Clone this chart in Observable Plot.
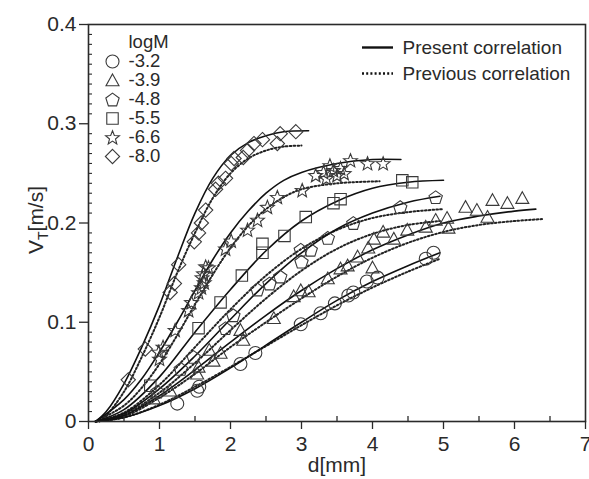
<!DOCTYPE html>
<html><head><meta charset="utf-8">
<script src="https://cdn.jsdelivr.net/npm/d3@7"></script>
<script src="https://cdn.jsdelivr.net/npm/@observablehq/plot@0.6"></script>
<style>
body{margin:0;background:#fff;}
#wrap{position:relative;width:589px;height:479px;font-family:"Liberation Sans",Arial,sans-serif;}
#wrap svg{position:absolute;overflow:visible;}
</style></head><body><div id="wrap"></div>
<script>
// ---- data ----
const groups = ["-3.2","-3.9","-4.8","-5.5","-6.6","-8.0"];
const legendTitle = "logM";
const lineLegend = ["Present correlation","Previous correlation"];
const xTicks = [0,1,2,3,4,5,6,7];
const xMinor = [0.5,1.5,2.5,3.5,4.5,5.5,6.5];
const yTicks = [0,0.1,0.2,0.3,0.4];
const yTickLabels = ["0","0.1","0.2","0.3","0.4"];
const yMinor = d3.range(1,40).filter(i=>i%10).map(i=>i/100);

// measured points [d (mm), VT (m/s)]
const pts32 = [[1.25,0.018],[1.53,0.031],[1.56,0.035],[2.14,0.058],[2.35,0.069],[2.99,0.098],[3.27,0.109],[3.47,0.119],[3.66,0.127],[3.73,0.13],[3.92,0.141],[4.07,0.145],[4.75,0.164],[4.86,0.17]];
const pts39 = [[0.92,0.023],[1.15,0.031],[1.53,0.048],[1.55,0.055],[1.7,0.072],[1.76,0.061],[1.86,0.069],[2.14,0.092],[2.18,0.082],[2.61,0.104],[2.89,0.126],[2.99,0.132],[3.1,0.131],[3.37,0.144],[3.55,0.154],[3.65,0.157],[3.79,0.166],[3.94,0.175],[4.0,0.155],[4.02,0.184],[4.15,0.191],[4.3,0.184],[4.49,0.193],[4.75,0.196],[4.89,0.203],[5.05,0.205],[5.07,0.195],[5.31,0.216],[5.47,0.213],[5.62,0.206],[5.69,0.223],[5.9,0.22],[6.11,0.225]];
const pts48 = [[0.97,0.03],[1.3,0.053],[1.48,0.065],[1.93,0.094],[2.04,0.107],[2.38,0.133],[2.55,0.139],[2.7,0.146],[2.99,0.173],[3.0,0.161],[3.13,0.173],[3.37,0.185],[3.73,0.2],[4.39,0.216],[4.89,0.226]];
const pts55 = [[0.87,0.036],[1.55,0.094],[1.86,0.12],[2.16,0.147],[2.45,0.17],[2.45,0.179],[2.76,0.187],[3.06,0.206],[3.45,0.22],[3.55,0.224],[4.42,0.243],[4.56,0.241]];
const pts66 = [[0.99,0.07],[1.0,0.063],[1.05,0.075],[1.22,0.092],[1.41,0.112],[1.45,0.12],[1.55,0.13],[1.59,0.135],[1.6,0.145],[1.63,0.14],[1.62,0.149],[1.65,0.156],[1.69,0.155],[1.93,0.174],[2.01,0.182],[2.24,0.193],[2.38,0.203],[2.52,0.216],[2.66,0.226],[3.01,0.233],[3.2,0.248],[3.31,0.251],[3.35,0.245],[3.4,0.258],[3.45,0.253],[3.5,0.248],[3.55,0.255],[3.6,0.25],[3.69,0.263],[3.93,0.26],[4.15,0.26]];
const pts80 = [[0.56,0.042],[0.80,0.073],[1.15,0.130],[1.21,0.139],[1.27,0.158],[1.49,0.181],[1.55,0.19],[1.59,0.2],[1.65,0.213],[1.79,0.234],[1.83,0.24],[1.93,0.245],[2.01,0.26],[2.05,0.265],[2.18,0.266],[2.24,0.273],[2.33,0.28],[2.45,0.284],[2.66,0.28],[2.7,0.29],[2.92,0.292]];

// correlation curves
const present32 = [[0.1,0],[0.5,0.004],[1.0,0.016],[1.5,0.033],[2.0,0.054],[2.5,0.077],[3.0,0.1],[3.5,0.122],[4.0,0.141],[4.5,0.157],[4.95,0.17]];
const previous32 = [[0.1,0],[0.5,0.004],[1.0,0.017],[1.5,0.035],[2.0,0.055],[2.5,0.076],[3.0,0.097],[3.5,0.117],[4.0,0.135],[4.5,0.151],[4.95,0.164]];
const present39 = [[0.1,0],[0.5,0.006],[1.0,0.026],[1.5,0.052],[2.0,0.08],[2.5,0.107],[3.0,0.132],[3.5,0.154],[4.0,0.173],[4.5,0.188],[5.0,0.2],[5.5,0.207],[6.0,0.212],[6.3,0.214]];
const previous39 = [[0.1,0],[0.5,0.005],[1.0,0.024],[1.5,0.048],[2.0,0.075],[2.5,0.1],[3.0,0.124],[3.5,0.146],[4.0,0.165],[4.5,0.18],[5.0,0.191],[5.5,0.198],[6.0,0.202],[6.4,0.204]];
const present48 = [[0.1,0],[0.5,0.008],[1.0,0.033],[1.5,0.066],[2.0,0.103],[2.5,0.139],[3.0,0.17],[3.5,0.194],[4.0,0.21],[4.5,0.221],[4.95,0.227]];
const previous48 = [[0.1,0],[0.5,0.007],[1.0,0.029],[1.5,0.059],[2.0,0.092],[2.5,0.124],[3.0,0.152],[3.5,0.174],[4.0,0.189],[4.5,0.198],[4.95,0.202]];
const present55 = [[0.1,0],[0.5,0.012],[1.0,0.045],[1.5,0.09],[2.0,0.133],[2.5,0.172],[3.0,0.202],[3.5,0.222],[4.0,0.235],[4.5,0.241],[5.0,0.243]];
const previous55 = [[0.1,0],[0.5,0.009],[1.0,0.037],[1.5,0.075],[2.0,0.113],[2.5,0.147],[3.0,0.174],[3.5,0.193],[4.0,0.205],[4.5,0.211],[5.0,0.214]];
const present66 = [[0.1,0],[0.5,0.022],[0.75,0.043],[1.0,0.07],[1.25,0.1],[1.5,0.132],[1.75,0.163],[2.0,0.19],[2.25,0.212],[2.5,0.23],[2.75,0.243],[3.0,0.251],[3.5,0.26],[4.0,0.264],[4.4,0.264]];
const previous66 = [[0.1,0],[0.5,0.016],[0.75,0.034],[1.0,0.058],[1.25,0.087],[1.5,0.118],[1.75,0.148],[2.0,0.175],[2.25,0.197],[2.5,0.214],[2.75,0.226],[3.0,0.234],[3.5,0.24],[4.1,0.242]];
const present80 = [[0.1,0],[0.25,0.01],[0.5,0.038],[0.75,0.075],[1.0,0.117],[1.25,0.165],[1.5,0.21],[1.75,0.245],[2.0,0.268],[2.25,0.281],[2.5,0.288],[2.75,0.292],[3.1,0.293]];
const previous80 = [[0.15,0],[0.25,0.006],[0.5,0.03],[0.75,0.065],[1.0,0.105],[1.25,0.15],[1.5,0.19],[1.75,0.225],[2.0,0.25],[2.25,0.265],[2.5,0.273],[2.75,0.277],[3.0,0.278]];

// ---- tables ----
const ptsAll = [pts32,pts39,pts48,pts55,pts66,pts80];
const presAll = [present32,present39,present48,present55,present66,present80];
const prevAll = [previous32,previous39,previous48,previous55,previous66,previous80];
const rows = arr => groups.flatMap((g,i)=>arr[i].map(([d,v])=>({g,d,v})));
const points = rows(ptsAll), presentRows = rows(presAll), previousRows = rows(prevAll);

// ---- symbol shapes ----
const sym = f => ({draw(ctx,size){const R=Math.sqrt(size/Math.PI); f(ctx,R);}});
const poly = (ctx, p) => {ctx.moveTo(p[0][0],p[0][1]); for (let k=1;k<p.length;k++) ctx.lineTo(p[k][0],p[k][1]); ctx.closePath();};
const circleS = sym((c,R)=>{c.moveTo(R,0); c.arc(0,0,R,0,2*Math.PI);});
const triS = sym((c,R)=>poly(c,[[0,-1.0*R],[1.0*R,0.8*R],[-1.0*R,0.8*R]]));
const pentS = sym((c,R)=>poly(c,d3.range(5).map(k=>{const a=-Math.PI/2+k*2*Math.PI/5; return [1.08*R*Math.cos(a),1.08*R*Math.sin(a)+0.1*R];})));
const squareS = sym((c,R)=>poly(c,[[-0.88*R,-0.88*R],[0.88*R,-0.88*R],[0.88*R,0.88*R],[-0.88*R,0.88*R]]));
const starS = sym((c,R)=>poly(c,d3.range(10).map(k=>{const a=-Math.PI/2+k*Math.PI/5, r=k%2?0.48*R:1.12*R; return [r*Math.cos(a),r*Math.sin(a)+0.08*R];})));
const diamondS = sym((c,R)=>poly(c,[[0,-1.1*R],[1.1*R,0],[0,1.1*R],[-1.1*R,0]]));
const symbolScale = {domain: groups, range: [circleS,triS,pentS,squareS,starS,diamondS]};

const font = '"Liberation Sans", Arial, sans-serif';
const ink = "#2a2a2a";

const chart = Plot.plot({
  width: 589, height: 479,
  marginLeft: 88, marginRight: 4, marginTop: 24, marginBottom: 58,
  x: {domain: [0,7]},
  y: {domain: [0,0.4]},
  symbol: symbolScale,
  style: {fontFamily: font, fontSize: "21px", color: ink, background: "white"},
  marks: [
    Plot.line(previousRows, {x:"d", y:"v", z:"g", curve:"catmull-rom", stroke:"#222", strokeWidth:2, strokeDasharray:"1.6,2.2"}),
    Plot.line(presentRows, {x:"d", y:"v", z:"g", curve:"catmull-rom", stroke:"#111", strokeWidth:1.6}),
    Plot.dot(points, {x:"d", y:"v", symbol:"g", r:6.5, stroke:"#3a3a3a", strokeWidth:1.1, fill:"none"}),
    Plot.frame({stroke: ink, strokeWidth: 1.6}),
    Plot.axisX(xMinor, {tickSize:-5, text:null, label:null, stroke: ink, strokeWidth:1.3}),
    Plot.axisX(xTicks, {tickSize:8, tickPadding:7, tickFormat:d=>String(d), label:null, stroke: ink, strokeWidth:1.3}),
    Plot.axisY(yMinor, {tickSize:-4, text:null, label:null, stroke: ink, strokeWidth:1.1}),
    Plot.axisY(yTicks, {tickSize:9, tickPadding:3, tickFormat:(d,i)=>yTickLabels[i], label:null, stroke: ink, strokeWidth:1.3}),
    Plot.text(["d[mm]"], {frameAnchor:"bottom", text:d=>d, dy:50, fontSize:21, fill: ink})
  ]
});
d3.select(chart).style("left","0px").style("top","0px");
// y-axis label with subscript
const yl = d3.select(chart).append("text")
  .attr("transform","translate(43,220) rotate(-90)")
  .attr("text-anchor","middle").attr("fill", ink).attr("font-size", 21).attr("font-family", font);
yl.append("tspan").text("V");
yl.append("tspan").attr("dy", 5).attr("font-size", 14).text("T");
yl.append("tspan").attr("dy", -5).text("[m/s]");
document.getElementById("wrap").appendChild(chart);

// symbol legend
const legRows = [legendTitle, ...groups];
const leg = Plot.plot({
  width: 120, height: 7*19.3, margin: 0,
  y: {domain: legRows, type: "point", padding: 0.5, axis: null},
  symbol: symbolScale,
  style: {fontFamily: font, fontSize: "18.5px", color: ink, background: "transparent"},
  marks: [
    Plot.dot(groups, {y:d=>d, symbol:d=>d, frameAnchor:"left", dx:12, r:6.5, stroke:"#3a3a3a", strokeWidth:1.1, fill:"none"}),
    Plot.text(legRows, {y:d=>d, text:d=>d, frameAnchor:"left", dx:28, textAnchor:"start", fill: ink})
  ]
});
d3.select(leg).style("left","100px").style("top","31px");
document.getElementById("wrap").appendChild(leg);

// line-style legend
const leg2 = Plot.plot({
  width: 230, height: 52, marginLeft: 0, marginRight: 199, marginTop: 0, marginBottom: 0,
  y: {domain: lineLegend, type: "point", padding: 0.5, axis: null},
  style: {fontFamily: font, fontSize: "19px", color: ink, background: "transparent"},
  marks: [
    Plot.tickY([lineLegend[0]], {y:d=>d, stroke:"#111", strokeWidth:2.4}),
    Plot.tickY([lineLegend[1]], {y:d=>d, stroke:"#111", strokeWidth:2.4, strokeDasharray:"2,2.2"}),
    Plot.text(lineLegend, {y:d=>d, text:d=>d, frameAnchor:"right", dx:9, textAnchor:"start", fill: ink})
  ]
});
d3.select(leg2).style("left","362px").style("top","34px");
document.getElementById("wrap").appendChild(leg2);
</script></body></html>
